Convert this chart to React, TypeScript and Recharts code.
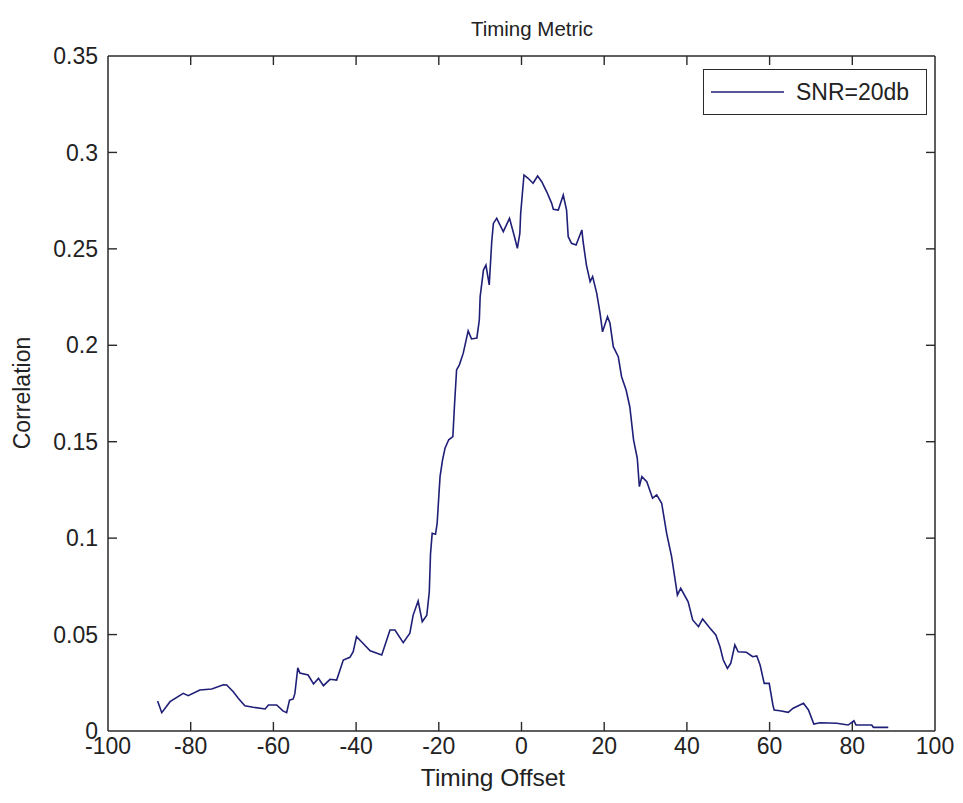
import React from "react";
import { LineChart, Line, XAxis, YAxis, Legend, ReferenceLine } from "recharts";

const offsets = [
  -88.0, -87.0, -85.0, -81.8, -80.6, -77.8, -74.9, -72.1, -71.3, -69.7, -68.5, -66.9, -64.9, -62.0, -61.2,
  -59.2, -57.7, -56.8, -56.1, -55.2, -54.8, -54.1, -53.6, -51.6, -50.3, -49.1, -47.9, -46.3, -44.7, -43.1,
  -41.5, -40.7, -39.9, -38.7, -36.6, -33.8, -31.8, -30.6, -28.6, -27.0, -26.2, -25.0, -24.0, -22.9, -22.3,
  -22.0, -21.6, -20.8, -20.4, -19.7, -19.1, -18.5, -17.6, -16.6, -16.2, -15.7, -15.0, -14.1, -12.9, -12.1,
  -10.8, -10.2, -10.0, -9.2, -8.6, -7.8, -7.2, -6.8, -6.0, -4.4, -2.9, -1.6, -1.0, -0.4, -0.2,
  0.6, 1.6, 2.8, 3.9, 4.9, 6.1, 7.3, 7.7, 8.9, 10.1, 10.9, 11.3, 12.1, 13.2, 14.6,
  14.9, 15.7, 16.6, 17.2, 18.2, 19.0, 19.6, 20.8, 21.4, 22.2, 23.4, 24.2, 25.3, 26.2, 27.1,
  28.0, 28.5, 29.1, 30.3, 31.7, 32.7, 33.9, 35.1, 36.3, 37.4, 37.7, 38.5, 40.3, 41.4, 42.8,
  43.8, 45.6, 47.0, 48.0, 48.8, 49.8, 50.6, 51.6, 52.4, 54.4, 55.9, 56.9, 57.7, 58.7, 59.9,
  60.8, 61.1, 62.5, 64.5, 65.7, 68.2, 69.4, 70.7, 72.2, 76.2, 79.0, 80.4, 80.9, 84.7, 85.1,
  88.7,
];

const correlation = [
  0.0156, 0.0095, 0.0152, 0.0195, 0.0183, 0.0213, 0.0218, 0.024, 0.0239, 0.0204, 0.017, 0.0131, 0.0123, 0.0114, 0.0135,
  0.0135, 0.0104, 0.0095, 0.016, 0.0166, 0.0195, 0.0328, 0.03, 0.029, 0.0244, 0.0273, 0.0235, 0.0268, 0.0264, 0.0368,
  0.0382, 0.0411, 0.0489, 0.0463, 0.0416, 0.0394, 0.0524, 0.0524, 0.0458, 0.0507, 0.0601, 0.0674, 0.0567, 0.0601, 0.0722,
  0.092, 0.1025, 0.102, 0.1077, 0.1319, 0.1405, 0.1466, 0.151, 0.1526, 0.169, 0.1872, 0.19, 0.1958, 0.2075, 0.2033,
  0.2038, 0.2131, 0.2252, 0.239, 0.2416, 0.2313, 0.2537, 0.2632, 0.2658, 0.2589, 0.2658, 0.2555, 0.2503, 0.258, 0.2684,
  0.2883, 0.2866, 0.284, 0.2878, 0.2848, 0.2796, 0.2736, 0.2705, 0.2701, 0.2779, 0.2701, 0.2563, 0.2529, 0.252, 0.2598,
  0.2537, 0.2416, 0.233, 0.2356, 0.2269, 0.2166, 0.207, 0.2148, 0.2114, 0.1993, 0.1941, 0.1837, 0.1768, 0.168, 0.151,
  0.1414, 0.1267, 0.1319, 0.1293, 0.1207, 0.1224, 0.1181, 0.1025, 0.0904, 0.0748, 0.0705, 0.074, 0.067, 0.0576, 0.0541,
  0.0581, 0.0533, 0.0498, 0.0437, 0.0368, 0.0325, 0.0351, 0.0446, 0.0411, 0.0408, 0.0385, 0.0389, 0.0342, 0.0247, 0.0247,
  0.0135, 0.0109, 0.0105, 0.0097, 0.0118, 0.0144, 0.0109, 0.0036, 0.0043, 0.004, 0.0031, 0.0053, 0.0031, 0.0031, 0.0019,
  0.0019,
];

const xTicks = [-100, -80, -60, -40, -20, 0, 20, 40, 60, 80, 100];
const yTicks = [0, 0.05, 0.1, 0.15, 0.2, 0.25, 0.3, 0.35];

const seriesName = "SNR=20db";
const titleText = "Timing Metric";
const xLabelText = "Timing Offset";
const yLabelText = "Correlation";

const data = offsets.map((x, i) => ({ x, y: correlation[i] }));

const X_MIN = -100;
const X_MAX = 100;
const Y_MIN = 0;
const Y_MAX = 0.35;

const CHART_W = 955;
const CHART_H = 795;
const MARGIN = { top: 47, right: 27, bottom: 42, left: 40 };
const X_AXIS_H = 30;
const Y_AXIS_W = 60;
const PLOT_W = CHART_W - MARGIN.left - MARGIN.right - Y_AXIS_W - 1;
const PLOT_H = CHART_H - MARGIN.top - MARGIN.bottom - X_AXIS_H - 1;
const TICK_LEN = 9;
const TICK_DY = (TICK_LEN / PLOT_H) * (Y_MAX - Y_MIN);
const TICK_DX = (TICK_LEN / PLOT_W) * (X_MAX - X_MIN);

const FONT = "'Liberation Sans', Arial, sans-serif";
const AXIS = "#2a2a2a";
const LINE = "#1f1f78";
const TEXT = "#222";
const XM = 7;
const YM = 10;

const BottomTick = (props: any) => {
  const { x, y, payload } = props;
  return (
    <text x={x} y={y} dy="0.71em" textAnchor="middle" fontSize={23} fontFamily={FONT} fill={TEXT}>
      {payload.value}
    </text>
  );
};

const LeftTick = (props: any) => {
  const { x, y, payload } = props;
  return (
    <text x={x} y={y} dy="0.355em" textAnchor="end" fontSize={23} fontFamily={FONT} fill={TEXT}>
      {payload.value}
    </text>
  );
};

const LegendBox = () => (
  <div
    style={{
      width: 224,
      height: 46,
      boxSizing: "border-box",
      border: `1.5px solid ${AXIS}`,
      background: "#fff",
      display: "flex",
      alignItems: "center",
      fontFamily: FONT,
      fontSize: 23,
      color: TEXT,
    }}
  >
    <svg width={92} height={20} style={{ display: "block" }}>
      <line x1={7} y1={10} x2={80} y2={10} stroke={LINE} strokeWidth={1.5} />
    </svg>
    <span style={{ whiteSpace: "nowrap" }}>{seriesName}</span>
  </div>
);

export default function App() {
  const innerX = xTicks.filter((t) => t > X_MIN && t < X_MAX);
  const innerY = yTicks.filter((t) => t > Y_MIN && t < Y_MAX);
  return (
    <div style={{ position: "relative", width: CHART_W, height: CHART_H, fontFamily: FONT }}>
      <div
        style={{
          position: "absolute",
          left: 0,
          width: 1048,
          top: 9,
          textAlign: "center",
          fontSize: 20.5,
          color: TEXT,
          lineHeight: "24px",
        }}
      >
        {titleText}
      </div>
      <div
        style={{
          position: "absolute",
          left: 0,
          width: 970,
          top: 757,
          textAlign: "center",
          fontSize: 24.5,
          color: TEXT,
          lineHeight: "26px",
        }}
      >
        {xLabelText}
      </div>
      <div
        style={{
          position: "absolute",
          left: 14 - 100,
          top: 385 - 13,
          width: 200,
          textAlign: "center",
          fontSize: 23,
          color: TEXT,
          lineHeight: "26px",
          transform: "rotate(-90deg)",
        }}
      >
        {yLabelText}
      </div>
      <LineChart
        width={CHART_W}
        height={CHART_H}
        data={data}
        margin={MARGIN}
        style={{ position: "absolute", left: 0, top: 0 }}
      >
        <XAxis
          dataKey="x"
          type="number"
          domain={[X_MIN, X_MAX]}
          ticks={xTicks}
          allowDataOverflow
          interval={0}
          height={X_AXIS_H}
          tickSize={0}
          tickLine={false}
          tickMargin={XM}
          tick={<BottomTick />}
          stroke={AXIS}
          strokeWidth={1.5}
        />
        <XAxis
          xAxisId="top"
          orientation="top"
          dataKey="x"
          type="number"
          domain={[X_MIN, X_MAX]}
          ticks={xTicks}
          allowDataOverflow
          height={1}
          tickSize={0}
          tickLine={false}
          tick={false}
          stroke={AXIS}
          strokeWidth={1.5}
        />
        <YAxis
          type="number"
          domain={[Y_MIN, Y_MAX]}
          ticks={yTicks}
          allowDataOverflow
          interval={0}
          width={Y_AXIS_W}
          tickSize={0}
          tickLine={false}
          tickMargin={YM}
          tick={<LeftTick />}
          stroke={AXIS}
          strokeWidth={1.5}
        />
        <YAxis
          yAxisId="right"
          orientation="right"
          type="number"
          domain={[Y_MIN, Y_MAX]}
          ticks={yTicks}
          allowDataOverflow
          width={1}
          tickSize={0}
          tickLine={false}
          tick={false}
          stroke={AXIS}
          strokeWidth={1.5}
        />
        {innerX.map((t) => (
          <ReferenceLine
            key={`b${t}`}
            segment={[{ x: t, y: Y_MIN }, { x: t, y: Y_MIN + TICK_DY }]}
            stroke={AXIS}
            strokeWidth={1.4}
            ifOverflow="visible"
          />
        ))}
        {innerX.map((t) => (
          <ReferenceLine
            key={`t${t}`}
            segment={[{ x: t, y: Y_MAX }, { x: t, y: Y_MAX - TICK_DY }]}
            stroke={AXIS}
            strokeWidth={1.4}
            ifOverflow="visible"
          />
        ))}
        {innerY.map((v) => (
          <ReferenceLine
            key={`l${v}`}
            segment={[{ x: X_MIN, y: v }, { x: X_MIN + TICK_DX, y: v }]}
            stroke={AXIS}
            strokeWidth={1.4}
            ifOverflow="visible"
          />
        ))}
        {innerY.map((v) => (
          <ReferenceLine
            key={`r${v}`}
            segment={[{ x: X_MAX, y: v }, { x: X_MAX - TICK_DX, y: v }]}
            stroke={AXIS}
            strokeWidth={1.4}
            ifOverflow="visible"
          />
        ))}
        <Legend
          layout="vertical"
          align="center"
          verticalAlign="middle"
          content={() => <LegendBox />}
          wrapperStyle={{ position: "absolute", left: 695, top: 61, width: 224, height: 46 }}
        />
        <Line
          type="linear"
          dataKey="y"
          xAxisId="top"
          yAxisId="right"
          stroke="none"
          strokeWidth={0}
          dot={false}
          activeDot={false}
          legendType="none"
          isAnimationActive={false}
        />
        <Line
          type="linear"
          dataKey="y"
          name={seriesName}
          stroke={LINE}
          strokeWidth={1.6}
          dot={false}
          activeDot={false}
          isAnimationActive={false}
        />
      </LineChart>
    </div>
  );
}
